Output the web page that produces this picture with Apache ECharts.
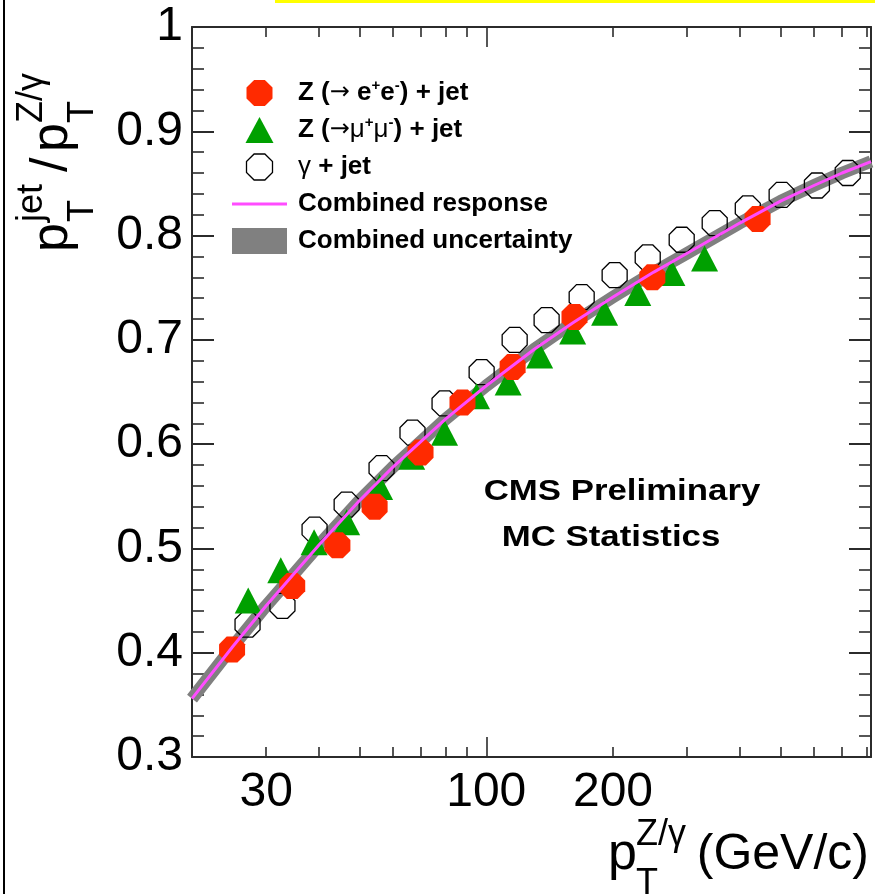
<!DOCTYPE html>
<html>
<head>
<meta charset="utf-8">
<script src="https://cdn.jsdelivr.net/npm/echarts@6/dist/echarts.min.js"></script>
<style>
  html, body { margin: 0; padding: 0; background: #fff; }
  #chart { width: 875px; height: 894px; }
</style>
</head>
<body>
<div id="chart"></div>
<script>
// Z(->ee)+jet response points
const eeX = [24.9, 34.6, 44.3, 54.3, 69.8, 87.8, 115.5, 162, 248, 441];
const eeY = [0.403, 0.464, 0.503, 0.540, 0.592, 0.640, 0.674, 0.722, 0.760, 0.816];

// Z(->mumu)+jet response points
const mmX = [27.2, 32.5, 39.0, 46.6, 55.8, 66.5, 79.6, 94.8, 112.7, 133.9, 160.4, 191, 229, 276, 330];
const mmY = [0.450, 0.479, 0.506, 0.525, 0.559, 0.588, 0.611, 0.646, 0.659, 0.685, 0.708, 0.726, 0.745, 0.764, 0.778];

// gamma+jet response points
const gjX = [27.1, 32.8, 39.1, 46.6, 56.4, 66.8, 79.6, 97.5, 116.8, 139.1, 168.5, 201.8, 241.8, 291.2, 348.8, 418, 503, 610, 722];
const gjY = [0.427, 0.445, 0.518, 0.542, 0.577, 0.611, 0.639, 0.669, 0.700, 0.719, 0.741, 0.762, 0.779, 0.796, 0.812, 0.826, 0.839, 0.848, 0.860];

// combined response curve (centre of the uncertainty band)
const combX = [20, 25, 30, 40, 50, 60, 80, 100, 130, 160, 200, 250, 300, 400, 500, 600, 700, 820];
const combY = [0.356, 0.406, 0.445, 0.503, 0.546, 0.578, 0.624, 0.656, 0.691, 0.716, 0.741, 0.765, 0.783, 0.812, 0.833, 0.848, 0.860, 0.871];

// axis ticks and labels
const xMinorTicks = [20, 30, 40, 50, 60, 70, 80, 90, 200, 300, 400, 500, 600, 700, 800];
const xMajorTicks = [100];
const xLabels = [30, 100, 200];

const FONT = '"Liberation Sans", Arial, Helvetica, "DejaVu Sans", sans-serif';
const AXIS = '#2b2b2b';
const RED = '#ff2a00';
const GREEN = '#00a000';
const MAGENTA = '#ff4cff';
const GREY = '#808080';

const OCTAGON = 'path://M0.383,-0.924L0.924,-0.383L0.924,0.383L0.383,0.924L-0.383,0.924L-0.924,0.383L-0.924,-0.383L-0.383,-0.924Z';
const TRIANGLE = 'path://M0,-13L14,13L-14,13Z';

const zip = (xs, ys) => xs.map((x, i) => [x, ys[i]]);

const names = {
  ee: 'Z (→ e+e-) + jet',
  mm: 'Z (→μ+μ-) + jet',
  gj: 'γ + jet',
  resp: 'Combined response',
  unc: 'Combined uncertainty'
};
const legendText = {
  [names.ee]: 'Z ({ar|→} e{sup|+}e{sup|-}) + jet',
  [names.mm]: 'Z ({ar|→}{gr|μ}{sup|+}{gr|μ}{sup|-}) + jet',
  [names.gj]: '{gr|γ} + jet',
  [names.resp]: 'Combined response',
  [names.unc]: 'Combined uncertainty'
};

function logXAxis(position, ticks, tickLen, showLine, labels) {
  return {
    type: 'log', logBase: 10, min: 20, max: 820, position: position,
    axisLine: { show: showLine, onZero: false, lineStyle: { color: AXIS, width: 2 } },
    axisTick: { show: true, inside: true, length: tickLen, customValues: ticks,
                lineStyle: { color: AXIS, width: 1.6 } },
    axisLabel: labels ? {
      show: true, customValues: labels, margin: 12,
      color: '#000', fontFamily: FONT, fontSize: 48,
      formatter: v => String(Math.round(v))
    } : { show: false },
    splitLine: { show: false },
    minorTick: { show: false }
  };
}

function yAxisDef(position, showLabels) {
  return {
    type: 'value', min: 0.3, max: 1.0, interval: 0.1, position: position,
    axisLine: { show: true, onZero: false, lineStyle: { color: AXIS, width: 2 } },
    axisTick: { show: true, inside: true, length: 22, lineStyle: { color: AXIS, width: 2 } },
    minorTick: { show: true, splitNumber: 5, length: 12, lineStyle: { color: AXIS, width: 1.6 } },
    axisLabel: showLabels ? {
      show: true, margin: 9, color: '#000', fontFamily: FONT, fontSize: 48,
      padding: [10, 0, 0, 0],
      formatter: v => (Math.abs(v - 1) < 1e-9 ? '1' : v.toFixed(1))
    } : { show: false },
    splitLine: { show: false }
  };
}

// text helper: places a piece on a given baseline
function piece(text, x, baseline, size, align, weight) {
  return {
    type: 'text',
    style: {
      text: text, x: x, y: baseline - 0.32 * size,
      fontFamily: FONT, fontSize: size, fontWeight: weight || 'normal',
      fill: '#000', align: align || 'left', verticalAlign: 'middle'
    }
  };
}

const chart = echarts.init(document.getElementById('chart'), null, { renderer: 'canvas' });

chart.setOption({
  animation: false,
  backgroundColor: '#fff',
  grid: { left: 192, right: 4, top: 27, bottom: 137, containLabel: false, outerBoundsMode: 'none' },
  xAxis: [
    logXAxis('bottom', xMinorTicks, 10, true, xLabels),
    logXAxis('top', xMinorTicks, 10, true, null),
    logXAxis('bottom', xMajorTicks, 20, false, null),
    logXAxis('top', xMajorTicks, 20, false, null)
  ],
  yAxis: [yAxisDef('left', true), yAxisDef('right', false)],
  legend: {
    show: true, orient: 'vertical', left: 232, top: 78, padding: 0,
    itemWidth: 55, itemHeight: 26, itemGap: 7, align: 'left',
    selectedMode: false, symbolKeepAspect: true,
    textStyle: {
      fontFamily: FONT, fontSize: 26, fontWeight: 'bold', color: '#000',
      lineHeight: 30, padding: [0, 0, 0, 6],
      rich: {
        sup: { fontFamily: FONT, fontSize: 15, fontWeight: 'bold', color: '#000', lineHeight: 15, verticalAlign: 'top' },
        gr: { fontFamily: FONT, fontSize: 26, fontWeight: 'normal', color: '#000', lineHeight: 30 },
        ar: { fontFamily: '"DejaVu Sans", sans-serif', fontSize: 24, fontWeight: 'normal', color: '#000', lineHeight: 30 }
      }
    },
    formatter: name => legendText[name] || name,
    data: [
      { name: names.ee, icon: OCTAGON, itemStyle: { color: RED, borderWidth: 0, opacity: 1 } },
      { name: names.mm, icon: TRIANGLE, itemStyle: { color: GREEN, borderWidth: 0, opacity: 1 } },
      { name: names.gj, icon: OCTAGON, itemStyle: { color: 'rgba(0,0,0,0)', borderColor: '#000', borderWidth: 1.3, opacity: 1 } },
      { name: names.resp, icon: 'path://M0,0H55V3H0Z', itemStyle: { color: MAGENTA, borderWidth: 0, opacity: 1 } },
      { name: names.unc, icon: 'rect', itemStyle: { color: GREY, borderWidth: 0, opacity: 1 } }
    ]
  },
  series: [
    {
      name: names.unc, type: 'line', data: zip(combX, combY),
      symbol: 'none', smooth: false, clip: false, silent: true, z: 1,
      itemStyle: { color: GREY },
      lineStyle: { color: GREY, width: 12.5, cap: 'butt', join: 'round', opacity: 1 }
    },
    {
      name: names.gj, type: 'scatter', data: zip(gjX, gjY),
      symbol: OCTAGON, symbolSize: 25, z: 2,
      itemStyle: { color: 'rgba(0,0,0,0)', borderColor: '#000', borderWidth: 1.3, opacity: 1 }
    },
    {
      name: names.mm, type: 'scatter', data: zip(mmX, mmY),
      symbol: TRIANGLE, symbolSize: [27, 26], z: 3,
      itemStyle: { color: GREEN, opacity: 1 }
    },
    {
      name: names.ee, type: 'scatter', data: zip(eeX, eeY),
      symbol: OCTAGON, symbolSize: 26, z: 4,
      itemStyle: { color: RED, opacity: 1 }
    },
    {
      name: names.resp, type: 'line', data: zip(combX, combY),
      symbol: 'none', smooth: false, silent: true, z: 5,
      itemStyle: { color: MAGENTA },
      lineStyle: { color: MAGENTA, width: 3, join: 'round', opacity: 1 }
    }
  ],
  graphic: [
    // page frame decorations
    { type: 'rect', shape: { x: 3, y: 0, width: 2, height: 894 }, style: { fill: '#000' }, silent: true },
    { type: 'rect', shape: { x: 275, y: 0, width: 600, height: 3 }, style: { fill: '#ffff00' }, silent: true },
    // y axis title, rotated to read upwards
    {
      type: 'group', x: 69, y: 252, rotation: Math.PI / 2, silent: true,
      children: [
        piece('p', 0, 0, 52),
        piece('jet', 30, -25, 36),
        piece('T', 30, 26, 36),
        piece('/', 80, 0, 52),
        piece('p', 100, 0, 52),
        piece('Z/γ', 129, -25, 36),
        piece('T', 129, 26, 36)
      ]
    },
    // x axis title
    {
      type: 'group', x: 0, y: 0, silent: true,
      children: [
        piece('p', 608, 871, 52),
        piece('Z/γ', 636, 847, 36),
        piece('T', 636, 896, 36),
        piece('(GeV/c)', 869, 871, 50, 'right')
      ]
    },
    // annotation
    {
      type: 'text', x: 622, y: 492, scaleX: 1.2, silent: true,
      style: { text: 'CMS Preliminary', x: 0, y: 0, align: 'center', verticalAlign: 'middle',
               fontFamily: FONT, fontSize: 29, fontWeight: 'bold', fill: '#000' }
    },
    {
      type: 'text', x: 611, y: 538, scaleX: 1.2, silent: true,
      style: { text: 'MC Statistics', x: 0, y: 0, align: 'center', verticalAlign: 'middle',
               fontFamily: FONT, fontSize: 29, fontWeight: 'bold', fill: '#000' }
    }
  ]
});
</script>
</body>
</html>
